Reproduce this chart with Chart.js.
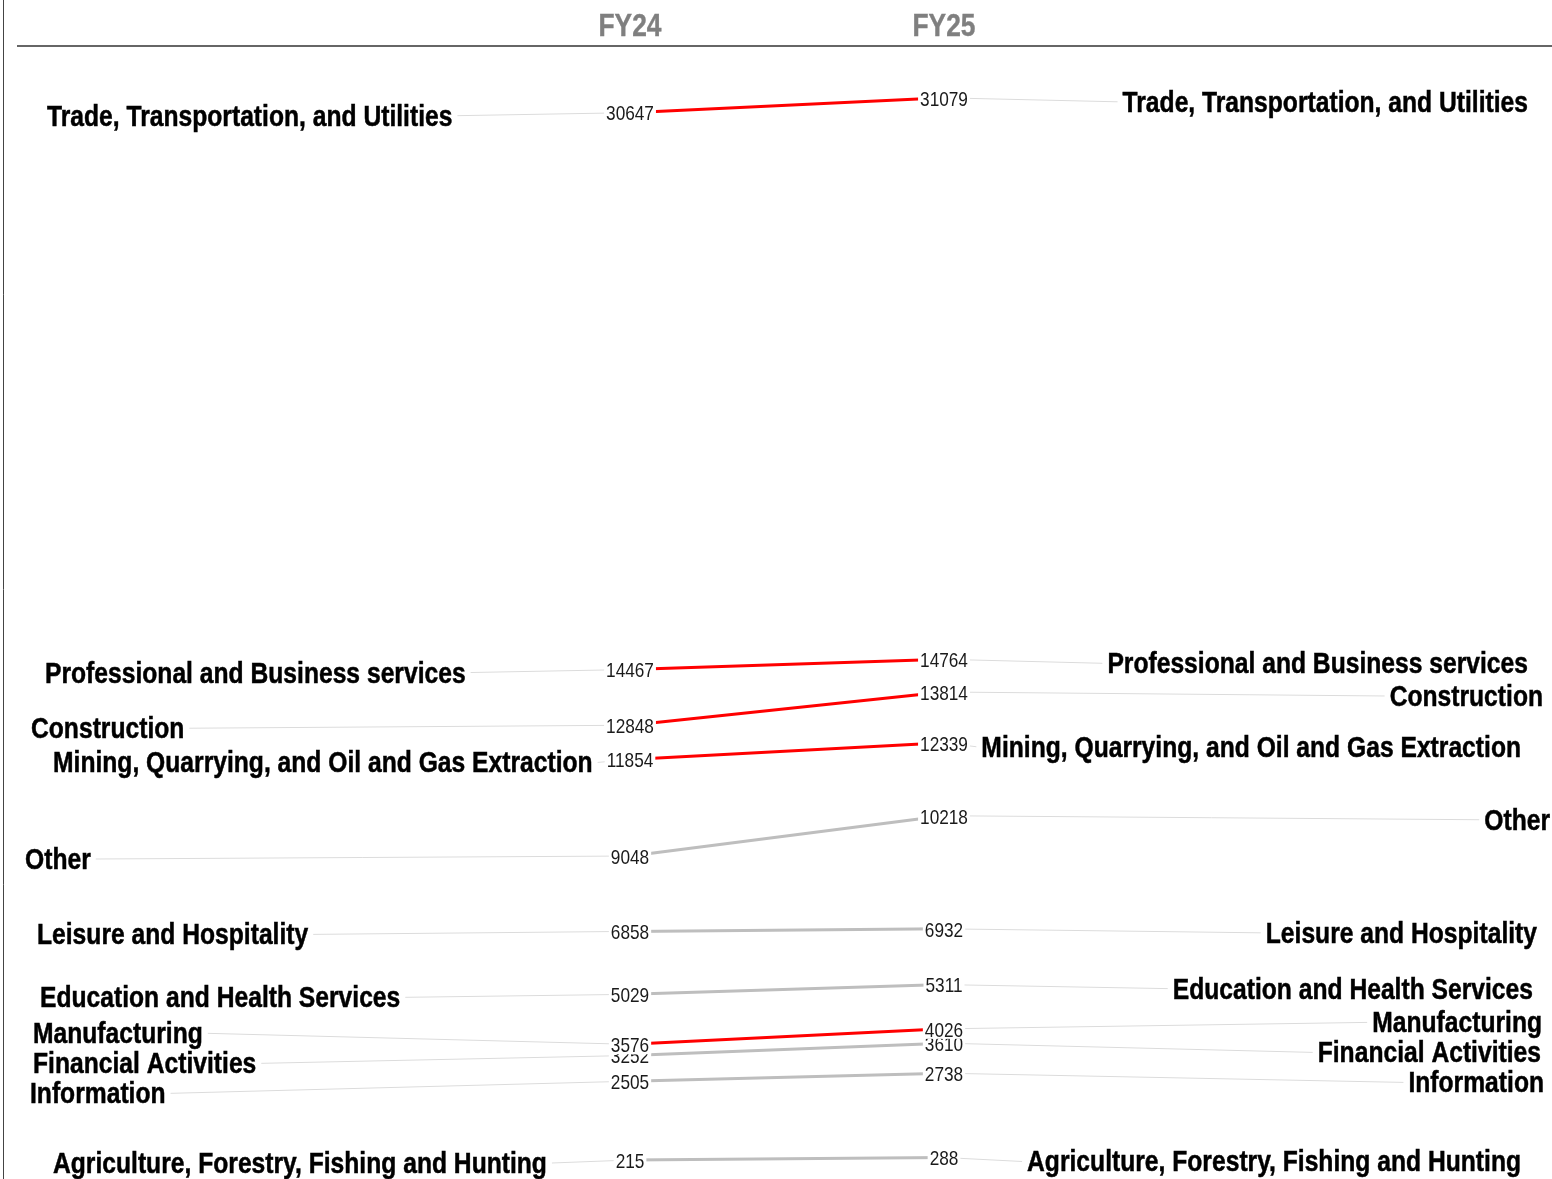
<!DOCTYPE html>
<html>
<head>
<meta charset="utf-8">
<script src="https://cdn.jsdelivr.net/npm/chart.js@4.4.1/dist/chart.umd.min.js"></script>
<style>
  html, body { margin: 0; padding: 0; background: #fff; }
  #wrap { width: 1552px; height: 1179px; position: relative; }
</style>
</head>
<body>
<div id="wrap"><canvas id="slope"></canvas></div>
<script>
// data
const periods = ['FY24', 'FY25'];
const categories = [
  'Trade, Transportation, and Utilities',
  'Professional and Business services',
  'Construction',
  'Mining, Quarrying, and Oil and Gas Extraction',
  'Other',
  'Leisure and Hospitality',
  'Education and Health Services',
  'Manufacturing',
  'Financial Activities',
  'Information',
  'Agriculture, Forestry, Fishing and Hunting'
];
const fy24 = [30647, 14467, 12848, 11854, 9048, 6858, 5029, 3576, 3252, 2505, 215];
const fy25 = [31079, 14764, 13814, 12339, 10218, 6932, 5311, 4026, 3610, 2738, 288];
const highlighted = [true, true, true, true, false, false, false, true, false, false, false];

// label placement (pixels), like the repelled labels of the original
const leftLabelX = [47, 45, 31, 53, 25, 37, 40, 33, 33, 30, 53];
const rightLabelEnd = [1528, 1528, 1543, 1521, 1550, 1537, 1533, 1542, 1541, 1544, 1521];

const FONT = '"Liberation Sans", Arial, sans-serif';
const NARROW = 0.82;       // squeeze Liberation Sans to look like Arial Narrow
const NARROW_BOLD = 0.85;
const RED = '#ff0000';
const GREY = '#bebebe';

function textWidth(ctx, t, k) {
  return ctx.measureText(t).width * k;
}

function narrowText(ctx, t, x, y, align, k, stroke) {
  ctx.save();
  ctx.translate(x, y);
  ctx.scale(k, 1);
  ctx.textAlign = align;
  if (stroke) {
    ctx.lineWidth = stroke;
    ctx.strokeStyle = ctx.fillStyle;
    ctx.strokeText(t, 0, 0);
  }
  ctx.fillText(t, 0, 0);
  ctx.restore();
}

// push label y positions apart so they don't overlap
function spread(ys, gap) {
  const out = ys.slice();
  const idx = out.map((_, i) => i).sort((a, b) => out[a] - out[b]);
  for (let it = 0; it < 200; it++) {
    let moved = false;
    for (let k = 1; k < idx.length; k++) {
      const a = idx[k - 1], b = idx[k];
      const d = out[b] - out[a];
      if (d < gap) {
        const m = (gap - d) / 2;
        out[a] -= m; out[b] += m;
        moved = true;
      }
    }
    if (!moved) break;
  }
  return out;
}

const slopeLabels = {
  id: 'slopeLabels',
  beforeDatasetsDraw(chart) {
    const ctx = chart.ctx;
    const x = chart.scales.x;
    ctx.save();
    // left frame line + header rule
    ctx.strokeStyle = '#444';
    ctx.lineWidth = 1;
    ctx.beginPath(); ctx.moveTo(3.5, 0); ctx.lineTo(3.5, chart.height); ctx.stroke();
    ctx.strokeStyle = '#333';
    ctx.lineWidth = 1.5;
    ctx.beginPath(); ctx.moveTo(17, 46); ctx.lineTo(chart.width, 46); ctx.stroke();
    // period headers
    ctx.fillStyle = '#7f7f7f';
    ctx.font = 'bold 31px ' + FONT;
    ctx.textBaseline = 'middle';
    periods.forEach((p, j) => narrowText(ctx, p, x.getPixelForValue(j), 27, 'center', NARROW_BOLD, 0.4));

    // leader lines from category labels to the points
    ctx.font = 'bold 29px ' + FONT;
    ctx.strokeStyle = '#dcdcdc';
    ctx.lineWidth = 1;
    const metas = categories.map((_, i) => chart.getDatasetMeta(i));
    const leftY = spread(metas.map(m => m.data[0].y), 30);
    const rightY = spread(metas.map(m => m.data[1].y), 30);
    chart.$labelY = { leftY, rightY };
    categories.forEach((c, i) => {
      const w = textWidth(ctx, c, NARROW_BOLD);
      const p0 = metas[i].data[0], p1 = metas[i].data[1];
      ctx.beginPath();
      ctx.moveTo(leftLabelX[i] + w + 5, leftY[i] + 3);
      ctx.lineTo(p0.x, p0.y);
      ctx.stroke();
      ctx.beginPath();
      ctx.moveTo(p1.x, p1.y);
      ctx.lineTo(rightLabelEnd[i] - w - 5, rightY[i] + 4);
      ctx.stroke();
    });
    ctx.restore();
  },
  afterDatasetsDraw(chart) {
    const ctx = chart.ctx;
    const { leftY, rightY } = chart.$labelY;
    ctx.save();
    ctx.textBaseline = 'middle';
    // value labels on white boxes, drawn bottom-up so larger values sit on top
    ctx.font = '21px ' + FONT;
    for (let i = categories.length - 1; i >= 0; i--) {
      const meta = chart.getDatasetMeta(i);
      [fy24[i], fy25[i]].forEach((v, j) => {
        const pt = meta.data[j];
        const txt = String(v);
        const w = textWidth(ctx, txt, NARROW);
        ctx.fillStyle = '#fff';
        ctx.fillRect(pt.x - w / 2 - 2, pt.y - 9, w + 4, 19);
        ctx.fillStyle = '#1a1a1a';
        narrowText(ctx, txt, pt.x, pt.y + 2, 'center', NARROW);
      });
    }
    // category labels
    ctx.font = 'bold 29px ' + FONT;
    ctx.fillStyle = '#000';
    categories.forEach((c, i) => {
      narrowText(ctx, c, leftLabelX[i], leftY[i] + 5, 'left', NARROW_BOLD, 0.5);
      narrowText(ctx, c, rightLabelEnd[i], rightY[i] + 6, 'right', NARROW_BOLD, 0.5);
    });
    ctx.restore();
  }
};

new Chart(document.getElementById('slope'), {
  type: 'line',
  data: {
    datasets: categories.map((c, i) => ({
      label: c,
      data: [{ x: 0, y: fy24[i] }, { x: 1, y: fy25[i] }],
      borderColor: highlighted[i] ? RED : GREY,
      borderWidth: 3,
      pointRadius: 0,
      order: highlighted[i] ? 0 : 1
    }))
  },
  options: {
    responsive: true,
    maintainAspectRatio: false,
    animation: false,
    layout: { padding: 0 },
    plugins: { legend: { display: false }, tooltip: { enabled: false } },
    scales: {
      x: { type: 'linear', min: -2.0064, max: 2.9363, display: false },
      y: { min: -337, max: 33921, display: false }
    }
  },
  plugins: [slopeLabels]
});
</script>
</body>
</html>
